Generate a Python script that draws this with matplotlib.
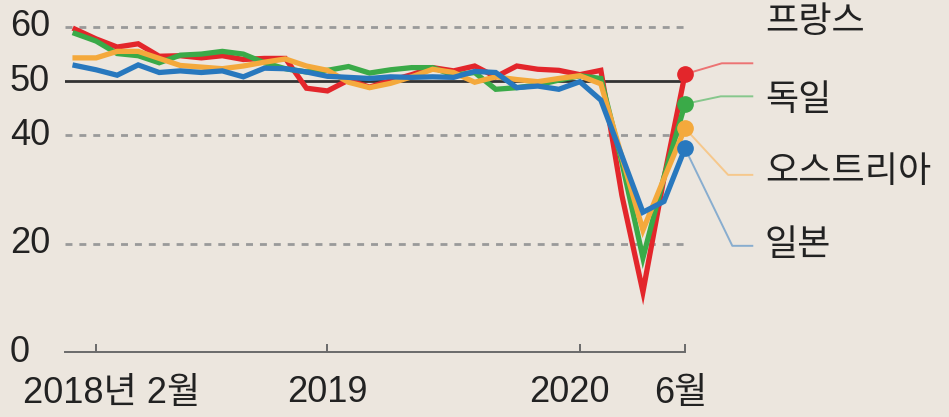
import matplotlib
matplotlib.use("Agg")
import matplotlib.pyplot as plt
import matplotlib.transforms as mtransforms

# monthly index: 0 = 2018-01 ... 29 = 2020-06
months = list(range(30))

france = [59.6, 57.8, 56.3, 56.9, 54.6, 54.7, 54.3, 54.7, 54.0, 54.2,
          54.2, 48.7, 48.2, 50.2, 48.9, 50.1, 51.2, 52.5, 51.9, 52.8,
          50.8, 52.8, 52.2, 52.0, 51.2, 52.0, 28.9, 11.1, 32.1, 51.3]
germany = [58.8, 57.4, 55.1, 54.7, 53.4, 54.8, 55.0, 55.5, 55.0, 53.4,
           52.3, 51.7, 52.0, 52.7, 51.5, 52.1, 52.5, 52.5, 51.1, 51.6,
           48.5, 48.8, 49.3, 50.2, 51.0, 50.5, 35.0, 17.4, 32.3, 45.8]
austria = [54.3, 54.3, 55.5, 55.5, 54.2, 52.9, 52.6, 52.3, 52.8, 53.5,
           54.1, 52.8, 52.0, 49.8, 48.8, 49.6, 50.8, 52.2, 51.6, 49.8,
           50.8, 50.3, 49.9, 50.5, 51.0, 49.5, 36.0, 22.5, 32.0, 41.3]
japan = [52.9, 52.1, 51.1, 53.0, 51.6, 51.9, 51.6, 51.9, 50.8, 52.4,
         52.3, 51.7, 50.9, 50.7, 50.5, 50.8, 50.7, 50.8, 50.7, 51.8,
         51.6, 48.8, 49.1, 48.5, 49.9, 46.5, 36.2, 25.8, 27.8, 37.6]

names = ["프랑스", "독일", "오스트리아", "일본"]
series = [france, germany, austria, japan]
colors = ["#e3262b", "#3aaa48", "#f4a93c", "#2878be"]
leader_colors = ["#ec7373", "#86c78c", "#f6c88c", "#88adcf"]

# leader knee (x in months, y in value), leader end and label position
knees = [(30.75, 53.3), (30.7, 47.2), (31.05, 32.7), (31.25, 19.6)]
label_end_x = 32.2
label_x = 32.8
label_y = [60.9, 46.5, 33.2, 19.7]

tick_pos = [1, 12, 24, 29]
tick_labels = ["2018년 2월", "2019", "2020", "6월"]
tick_shift = [15, 0, -10, -4]   # px nudges as in the original layout
ytick_vals = [0, 20, 40, 50, 60]

plt.rcParams["font.family"] = ["Liberation Sans", "Noto Sans CJK KR"]

bg = "#ece6de"
fig = plt.figure(figsize=(9.49, 4.17), dpi=100, facecolor=bg)
ax = fig.add_axes([65 / 949, 65 / 417, 620 / 949, 325 / 417], facecolor=bg)

ax.set_xlim(-0.48, 29)
ax.set_ylim(0, 60)

for v in [20, 40, 60]:
    ax.axhline(v, color="#9a9a9a", lw=2, ls=(0, (2.5, 2.5)), zorder=1, clip_on=False)
ax.axhline(50, color="#333333", lw=2, zorder=1)

for vals, c in zip(series, colors):
    ax.plot(months, vals, color=c, lw=3.8, solid_joinstyle="miter", zorder=3, clip_on=False)
for vals, c in zip(series, colors):
    ax.plot(months[-1], vals[-1], "o", color=c, ms=11, zorder=4, clip_on=False)

for vals, lc, (kx, ky), name, ly in zip(series, leader_colors, knees, names, label_y):
    ax.plot([months[-1], kx, label_end_x], [vals[-1], ky, ky], color=lc, lw=1.4,
            zorder=2, clip_on=False)
    ax.text(label_x, ly, name, fontsize=26, color="#222222", va="center", ha="left",
            clip_on=False)

for s in ["left", "right", "top"]:
    ax.spines[s].set_visible(False)
ax.spines["bottom"].set_color("#6a6a6a")
ax.spines["bottom"].set_linewidth(1.4)

ax.set_yticks([])
for v in ytick_vals:
    ax.text(-55 / 620, v, str(v), transform=ax.get_yaxis_transform(), fontsize=26,
            color="#222222", va="center", ha="left")

ax.set_xticks(tick_pos)
ax.set_xticklabels([])
ax.tick_params(axis="x", direction="in", length=6, width=1.4, color="#6a6a6a")
for p, lab, dx in zip(tick_pos, tick_labels, tick_shift):
    tr = ax.get_xaxis_transform() + mtransforms.ScaledTranslation(dx / 100, 0, fig.dpi_scale_trans)
    ax.text(p, -41 / 325, lab, transform=tr, fontsize=26, color="#222222",
            ha="center", va="center")

fig.savefig("out.png", dpi=100, facecolor=bg)
